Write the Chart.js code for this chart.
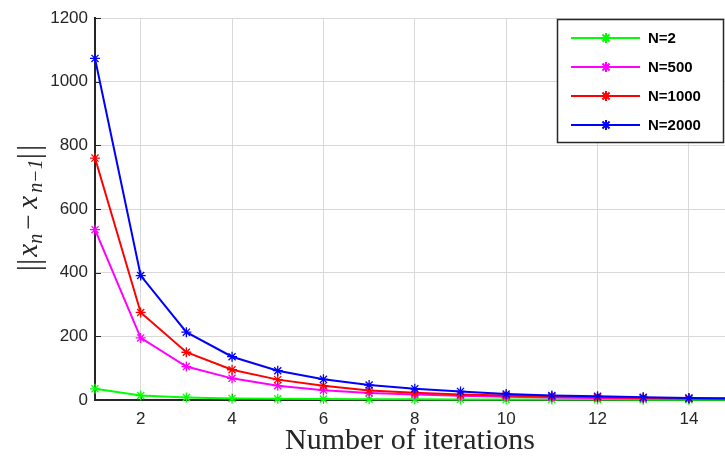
<!DOCTYPE html>
<html>
<head>
<meta charset="utf-8">
<script src="https://cdn.jsdelivr.net/npm/chart.js@4"></script>
<style>
  html, body { margin: 0; padding: 0; background: #fff; }
  #wrap { width: 725px; height: 459px; }
</style>
</head>
<body>
<div id="wrap"><canvas id="chart" width="725" height="459"></canvas></div>
<script>
// iterations and residual norms
const iterations = [1, 2, 3, 4, 5, 6, 7, 8, 9, 10, 11, 12, 13, 14, 15];
const n2    = [35, 14, 8, 5, 4, 3, 2.5, 2, 1.8, 1.5, 1.3, 1.2, 1.1, 1, 1];
const n500  = [535, 195, 105, 68, 45, 31, 22, 17, 13, 10, 8, 6, 5, 4, 3];
const n1000 = [760, 275, 150, 95, 64, 45, 30, 23, 17, 14, 11, 9, 7, 5, 4];
const n2000 = [1073, 391, 213, 136, 92, 65, 47, 35, 27, 19, 14, 11.5, 8.5, 6, 5];
const xTicks = [2, 4, 6, 8, 10, 12, 14];
const yTicks = [0, 200, 400, 600, 800, 1000, 1200];
const labels = ["N=2", "N=500", "N=1000", "N=2000"];
const colors = ["#00ff00", "#ff00ff", "#ff0000", "#0000ff"];

// let the plot run to the right edge of the canvas (no room kept for markers)
Chart.registry.getController("line").prototype.getMaxOverflow = () => 0;

const series = [n2, n500, n1000, n2000];
const datasets = series.map((vals, i) => ({
    label: labels[i],
    data: vals.map((v, k) => ({x: iterations[k], y: v})),
    borderColor: colors[i],
    backgroundColor: colors[i],
    borderWidth: 2,
    pointStyle: "star",
    pointRadius: 5,
    pointBorderWidth: 1.3,
    pointBorderColor: colors[i],
    order: 3 - i,
    clip: {left: 8, top: 8, right: 0, bottom: 8},
    tension: 0
}));

// small inward tick marks like MATLAB axes
const innerTicks = {
    id: "innerTicks",
    beforeDatasetsDraw(chart) {
        const c = chart.ctx, a = chart.chartArea;
        const xs = chart.scales.x, ys = chart.scales.y;
        c.save();
        c.strokeStyle = "#262626";
        c.lineWidth = 1;
        c.beginPath();
        xTicks.forEach(v => {
            const px = Math.round(xs.getPixelForValue(v)) + 0.5;
            c.moveTo(px, a.bottom); c.lineTo(px, a.bottom - 6);
        });
        yTicks.forEach(v => {
            const py = Math.round(ys.getPixelForValue(v)) + 0.5;
            c.moveTo(a.left, py); c.lineTo(a.left + 6, py);
        });
        c.stroke();
        c.restore();
    }
};

// boxed legend in the top right corner, MATLAB style
const boxLegend = {
    id: "boxLegend",
    afterDraw(chart) {
        const c = chart.ctx;
        c.save();
        c.fillStyle = "#fff";
        c.fillRect(557, 19, 167, 124);
        c.strokeStyle = "#262626";
        c.lineWidth = 1.5;
        c.strokeRect(557.5, 19.5, 166, 123);
        c.font = "bold 15px 'Liberation Sans', Arial, sans-serif";
        c.textBaseline = "middle";
        labels.forEach((lab, i) => {
            const y = 38 + i * 29;
            c.strokeStyle = colors[i];
            c.lineWidth = 2;
            c.beginPath(); c.moveTo(571, y); c.lineTo(640, y); c.stroke();
            Chart.helpers.drawPoint(c, {pointStyle: "star", radius: 5, borderWidth: 1.3}, 606, y);
            c.fillStyle = "#000";
            c.fillText(lab, 648, y + 1);
        });
        c.restore();
    }
};

// y axis label ||x_n - x_{n-1}|| with subscripts
const yLabel = {
    id: "yLabel",
    afterDraw(chart) {
        const c = chart.ctx;
        const bar = "31px 'Liberation Serif', serif";
        const main = "italic 29px 'Liberation Serif', serif";
        const sub = "italic 20px 'Liberation Serif', serif";
        const parts = [
            {t: "|", f: bar, dy: 2}, {t: "|", f: bar, dy: 2, gap: 2},
            {t: "x", f: main, dy: 0},
            {t: "n", f: sub, dy: 5, gap: 4},
            {t: "\u2212", f: "27px 'Liberation Serif', serif", dy: 0, gap: 6},
            {t: "x", f: main, dy: 0, gap: 3},
            {t: "n\u22121", f: sub, dy: 5},
            {t: "|", f: bar, dy: 2, gap: 2}, {t: "|", f: bar, dy: 2}
        ];
        c.save();
        c.textBaseline = "alphabetic";
        let total = 0;
        parts.forEach(p => { c.font = p.f; p.w = c.measureText(p.t).width; total += p.w + (p.gap || 0); });
        c.translate(37, 208);
        c.rotate(-Math.PI / 2);
        let x = -total / 2;
        c.fillStyle = "#262626";
        parts.forEach(p => {
            c.font = p.f;
            c.fillText(p.t, x, p.dy);
            x += p.w + (p.gap || 0);
        });
        c.restore();
    }
};

new Chart(document.getElementById("chart"), {
    type: "line",
    data: { datasets },
    plugins: [innerTicks, yLabel, boxLegend],
    options: {
        responsive: false,
        animation: false,
        layout: { padding: { top: 18, right: 0, left: 0, bottom: 0 } },
        plugins: { legend: { display: false }, tooltip: { enabled: false } },
        scales: {
            x: {
                type: "linear",
                min: 1,
                max: 14.79,
                afterBuildTicks: s => { s.ticks = xTicks.map(v => ({value: v})); },
                afterFit: s => { s.height = 59; s.paddingLeft = 0; s.paddingRight = 0; },
                grid: { color: "#d9d9d9", lineWidth: 1, drawTicks: false },
                border: { color: "#262626", width: 2 },
                ticks: {
                    color: "#262626",
                    padding: 9,
                    font: { family: "'Liberation Sans', Arial, sans-serif", size: 17 }
                },
                title: {
                    display: true,
                    text: "Number of iterations",
                    color: "#262626",
                    font: { family: "'Liberation Serif', serif", size: 30 },
                    padding: { top: 0, bottom: 0 }
                }
            },
            y: {
                min: 0,
                max: 1200,
                afterBuildTicks: s => { s.ticks = yTicks.map(v => ({value: v})); },
                afterFit: s => { s.width = 95; s.paddingTop = 0; s.paddingBottom = 0; },
                grid: { color: "#d9d9d9", lineWidth: 1, drawTicks: false },
                border: { color: "#262626", width: 2 },
                ticks: {
                    color: "#262626",
                    padding: 7,
                    callback: v => String(v),
                    font: { family: "'Liberation Sans', Arial, sans-serif", size: 17 }
                }
            }
        }
    }
});
</script>
</body>
</html>
